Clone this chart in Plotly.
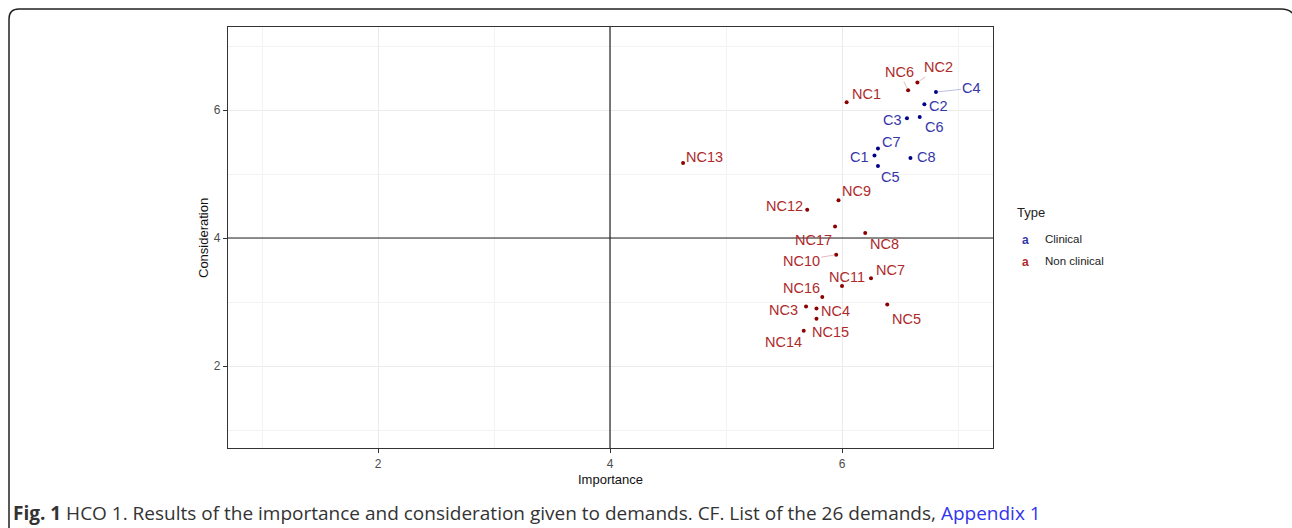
import plotly.graph_objects as go

# ---- data ----
clin_names = ["C1", "C2", "C3", "C4", "C5", "C6", "C7", "C8"]
clin_imp = [6.28, 6.71, 6.56, 6.81, 6.31, 6.67, 6.31, 6.59]
clin_con = [5.29, 6.09, 5.87, 6.28, 5.125, 5.89, 5.40, 5.25]

nc_names = ["NC1", "NC2", "NC3", "NC4", "NC5", "NC6", "NC7", "NC8", "NC9",
            "NC10", "NC11", "NC12", "NC13", "NC14", "NC15", "NC16", "NC17"]
nc_imp = [6.04, 6.65, 5.69, 5.78, 6.39, 6.57, 6.25, 6.20, 5.97,
          5.95, 6.00, 5.70, 4.63, 5.67, 5.78, 5.83, 5.94]
nc_con = [6.12, 6.43, 2.93, 2.90, 2.96, 6.31, 3.37, 4.08, 4.59,
          3.74, 3.25, 4.44, 5.17, 2.55, 2.74, 3.08, 4.18]

# label offsets in pixels (dx, dy screen), and whether a repel segment is drawn
clin_off = {"C1": (-15, 2, False), "C2": (14, 2, False), "C3": (-14, 2, False),
            "C4": (36, -4, True), "C5": (13, 11, False), "C6": (15, 10, False),
            "C7": (14, -6, False), "C8": (16, -1, False)}
nc_off = {"NC1": (20, -8, False), "NC2": (21, -15, True), "NC3": (-23, 4, False),
          "NC4": (19, 3, False), "NC5": (19, 14, False), "NC6": (-9, -18, True),
          "NC7": (19, -8, False), "NC8": (19, 11, False), "NC9": (18, -9, False),
          "NC10": (-35, 6, True), "NC11": (5, -9, False), "NC12": (-23, -4, False),
          "NC13": (21, -6, False), "NC14": (-20, 11, False), "NC15": (14, 13, False),
          "NC16": (-21, -9, False), "NC17": (-22, 14, False)}

W, H = 1292, 528
px0, px1, py0, py1 = 228, 993, 27, 448

CLIN_PT, CLIN_TX = "#00008B", "#3535a8"
NC_PT, NC_TX = "#8B0000", "#ae2a2a"

fig = go.Figure()
fig.add_trace(go.Scatter(x=clin_imp, y=clin_con, mode="markers",
                         marker=dict(color=CLIN_PT, size=4), showlegend=False, hoverinfo="skip"))
fig.add_trace(go.Scatter(x=nc_imp, y=nc_con, mode="markers",
                         marker=dict(color=NC_PT, size=4), showlegend=False, hoverinfo="skip"))

anns = []
def add_labels(names, xs, ys, offs, tcol, lcol):
    for n, x, y in zip(names, xs, ys):
        dx, dy, seg = offs[n]
        anns.append(dict(x=x, y=y, xref="x", yref="y", text=n, showarrow=True,
                         ax=dx, ay=dy, axref="pixel", ayref="pixel",
                         arrowhead=0, arrowwidth=0.8, standoff=2,
                         arrowcolor=lcol if seg else "rgba(0,0,0,0)",
                         font=dict(family="Liberation Sans, Arial", size=14.5, color=tcol)))

add_labels(clin_names, clin_imp, clin_con, clin_off, CLIN_TX, "#aab0dd")
add_labels(nc_names, nc_imp, nc_con, nc_off, NC_TX, "#ddaaaa")

# legend (ggplot-style)
def paper(xp, yp):
    return xp / W, 1 - yp / H
lx, ly = paper(1015, 213)
anns.append(dict(x=lx, y=ly, xref="paper", yref="paper", text="Type", showarrow=False,
                 xanchor="left", yanchor="middle",
                 font=dict(family="Liberation Sans, Arial", size=13, color="#222")))
for i, (lab, col) in enumerate([("Clinical", CLIN_TX), ("Non clinical", NC_TX)]):
    gx, gy = paper(1025, 240 + i * 22)
    anns.append(dict(x=gx, y=gy, xref="paper", yref="paper", text="<b>a</b>", showarrow=False,
                     xanchor="center", yanchor="middle",
                     font=dict(family="Liberation Sans, Arial", size=12, color=col)))
    tx, ty = paper(1043, 239 + i * 22)
    anns.append(dict(x=tx, y=ty, xref="paper", yref="paper", text=lab, showarrow=False,
                     xanchor="left", yanchor="middle",
                     font=dict(family="Liberation Sans, Arial", size=11.5, color="#222")))

# caption
cx, cy = paper(11, 513)
anns.append(dict(x=cx, y=cy, xref="paper", yref="paper", showarrow=False,
                 xanchor="left", yanchor="middle",
                 text="<b>Fig. 1</b> HCO 1. Results of the importance and consideration given to demands. "
                      "CF. List of the 26 demands, <span style='color:#3333ee'>Appendix 1</span>",
                 font=dict(family="Open Sans, Noto Sans", size=19, color="#333")))

# axis titles
ax_, ay_ = paper(610, 479)
anns.append(dict(x=ax_, y=ay_, xref="paper", yref="paper", text="Importance", showarrow=False,
                 xanchor="center", yanchor="middle",
                 font=dict(family="Liberation Sans, Arial", size=13, color="#111")))
bx, by = paper(204, 238)
anns.append(dict(x=bx, y=by, xref="paper", yref="paper", text="Consideration", showarrow=False,
                 xanchor="center", yanchor="middle",
                 textangle=-90, font=dict(family="Liberation Sans, Arial", size=13, color="#111")))

xr = [(px0 - 146) / 116, (px1 - 146) / 116]
yr = [(494 - py1) / 64, (494 - py0) / 64]

axis_common = dict(showline=True, mirror=True, linecolor="#333", linewidth=1.2,
                   ticks="outside", ticklen=4, tickcolor="#333", tickwidth=1,
                   gridcolor="#ebebeb", gridwidth=1, zeroline=False,
                   tickfont=dict(family="Liberation Sans, Arial", size=12, color="#4d4d4d"),
                   dtick=2, tick0=0,
                   minor=dict(showgrid=True, gridcolor="#f2f2f2", gridwidth=0.6, dtick=1, tick0=0))

fig.update_layout(
    width=W, height=H, margin=dict(l=0, r=0, t=0, b=0),
    paper_bgcolor="white", plot_bgcolor="white", showlegend=False,
    xaxis=dict(range=xr, domain=[px0 / W, px1 / W], **axis_common),
    yaxis=dict(range=yr, domain=[1 - py1 / H, 1 - py0 / H], **axis_common),
    annotations=anns,
    shapes=[
        dict(type="line", xref="x", yref="paper", x0=4, x1=4, y0=1 - py1 / H, y1=1 - py0 / H,
             line=dict(color="#222", width=1.2)),
        dict(type="line", xref="paper", yref="y", x0=px0 / W, x1=px1 / W, y0=4, y1=4,
             line=dict(color="#222", width=1.2)),
        dict(type="path", xref="paper", yref="paper",
             path=f"M {9/W} 0 L {9/W} {1-19/H} Q {9/W} {1-9/H} {19/W} {1-9/H} "
                  f"L {1281/W} {1-9/H} Q {1289/W} {1-9/H} {1292/W} {1-13/H}",
             line=dict(color="#222", width=1.5)),
    ],
)

fig.write_html("out.html", config={"displayModeBar": False},
               post_script="document.body.style.margin='0';document.body.style.overflow='hidden';")
